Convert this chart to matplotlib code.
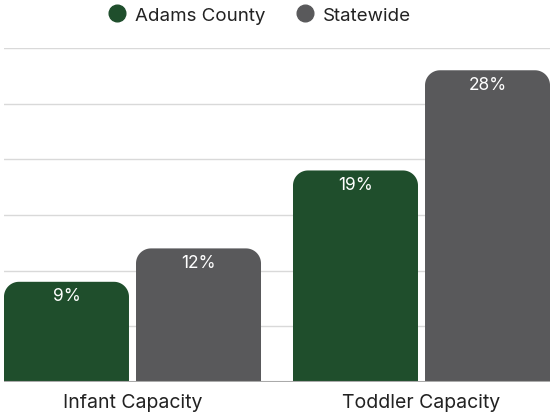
import numpy as np
import matplotlib.pyplot as plt
from matplotlib.patches import Polygon
from matplotlib.lines import Line2D

# capacity shares, in percent
categories = ['Infant Capacity', 'Toddler Capacity']
series = ['Adams County', 'Statewide']
adams = [9, 19]
statewide = [12, 28]
colors = ['#1f4e2c', '#59595b']

plt.rcParams['font.family'] = ['Inter', 'DejaVu Sans']

W, H = 550, 414
fig = plt.figure(figsize=(W / 100, H / 100), dpi=100)
ax = fig.add_axes([4 / W, (H - 383) / H, 546 / W, (383 - 49) / H])

x = np.arange(len(categories))
off = 0.2284   # half distance between the two bars of a group
bw = 0.4325    # bar width
ax.set_xlim(-0.4446, 1.4446)
ax.set_ylim(0, 30)

# pixels per data unit, used for round corners and label offsets
px_x = 546 / (ax.get_xlim()[1] - ax.get_xlim()[0])
px_y = 334 / (ax.get_ylim()[1] - ax.get_ylim()[0])
r = 15


def rounded_bar(ax, xc, h, width, color):
    rx = r / px_x
    ry = min(r / px_y, h)
    left, right = xc - width / 2, xc + width / 2
    t = np.linspace(np.pi, np.pi / 2, 20)
    tl = np.column_stack([left + rx + rx * np.cos(t), h - ry + ry * np.sin(t)])
    t = np.linspace(np.pi / 2, 0, 20)
    tr = np.column_stack([right - rx + rx * np.cos(t), h - ry + ry * np.sin(t)])
    pts = np.vstack([[left, 0], tl, tr, [right, 0]])
    ax.add_patch(Polygon(pts, closed=True, facecolor=color, edgecolor='none', zorder=2))
    ax.text(xc, h - 14 / px_y, f'{h}%', ha='center', va='center',
            color='white', fontsize=12.5, zorder=3)


for vals, sign, col in zip([adams, statewide], [-1, 1], colors):
    for xi, v in zip(x, vals):
        rounded_bar(ax, xi + sign * off, v, bw, col)

ax.set_yticks(np.arange(0, 31, 5))
ax.yaxis.grid(True, color='#d9d9d9', linewidth=1)
ax.set_axisbelow(True)
ax.tick_params(axis='y', length=0, labelleft=False)
ax.set_xticks(x, categories)
ax.tick_params(axis='x', length=0, pad=8, labelsize=14, labelcolor='#222222')
for s in ax.spines.values():
    s.set_visible(False)
ax.axhline(0, color='#aaaaaa', linewidth=1.5, zorder=4)

handles = [Line2D([], [], marker='o', linestyle='none', markersize=12,
                  markerfacecolor=c, markeredgecolor=c) for c in colors]
fig.legend(handles, series, loc='center', bbox_to_anchor=(259 / W, 1 - 16 / H),
           ncol=2, frameon=False, fontsize=13.5, handlelength=1,
           handletextpad=0.45, columnspacing=1.6, labelcolor='#222222')

fig.savefig('out.png', dpi=100)
